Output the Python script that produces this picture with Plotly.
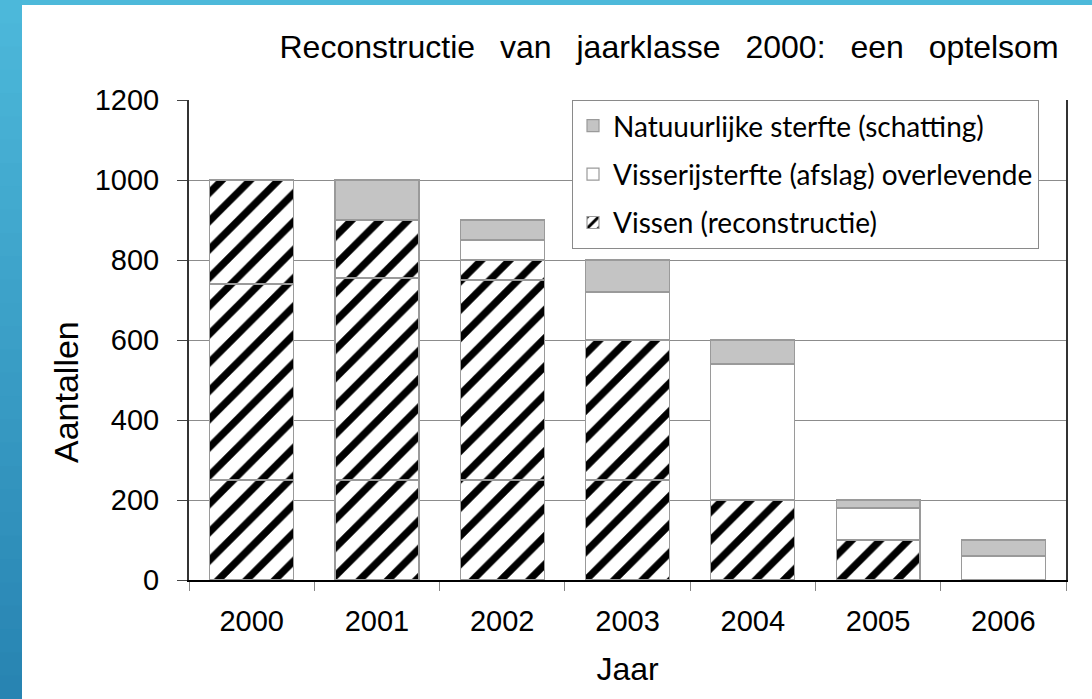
import plotly.graph_objects as go

jaren = ["2000", "2001", "2002", "2003", "2004", "2005", "2006"]
# Vissen (reconstructie), drawn as stacked segments (seams visible in the original)
vissen_laag = [250, 250, 250, 250, 200, 100, None]
vissen_mid = [490, 505, 500, 350, None, None, None]
vissen_hoog = [260, 145, 50, None, None, None, None]
visserij = [None, None, 50, 120, 340, 80, 60]
natuurlijk = [None, 100, 50, 80, 60, 20, 40]

W, H = 1092, 699
L, R, T, B = 189, 26, 100, 119
pw, ph = W - L - R, H - T - B

def px_x(p):
    return (p - L) / pw

def px_y(p):
    return (H - B - p) / ph

hatch = dict(shape="/", fgcolor="black", bgcolor="white", size=20,
             solidity=0.36, fgopacity=1)
edge = dict(color="#9a9a9a", width=1.2)

fig = go.Figure()
for i, seg in enumerate([vissen_laag, vissen_mid, vissen_hoog]):
    fig.add_trace(go.Bar(
        x=jaren, y=seg, name="Vissen (reconstructie)",
        legendgroup="vissen", showlegend=(i == 0), legendrank=3,
        marker=dict(color="white", pattern=hatch, line=edge),
    ))
fig.add_trace(go.Bar(
    x=jaren, y=visserij, name="Visserijsterfte (afslag) overlevende",
    legendgroup="visserij", legendrank=2,
    marker=dict(color="white", line=edge),
))
fig.add_trace(go.Bar(
    x=jaren, y=natuurlijk, name="Natuuurlijke sterfte (schatting)",
    legendgroup="natuurlijk", legendrank=1,
    marker=dict(color="#c4c4c4", line=edge),
))

shapes = []
# blue slide border (top band and left gradient band)
shapes.append(dict(type="rect", xref="paper", yref="paper", layer="above",
                   x0=px_x(0), x1=px_x(W), y0=px_y(5), y1=px_y(0),
                   fillcolor="#4db9da", line=dict(width=0)))
n = 30
c0 = (0x4c, 0xb8, 0xda)
c1 = (0x28, 0x84, 0xb2)
for k in range(n):
    t = k / (n - 1)
    col = "rgb(%d,%d,%d)" % tuple(int(round(a + (b - a) * t)) for a, b in zip(c0, c1))
    y0p = H * k / n
    y1p = H * (k + 1) / n + 2
    shapes.append(dict(type="rect", xref="paper", yref="paper", layer="above",
                       x0=px_x(0), x1=px_x(22), y0=px_y(y1p), y1=px_y(y0p),
                       fillcolor=col, line=dict(width=0)))

gap = " \u2002"
titel = gap.join(["Reconstructie", "van", "jaarklasse", "2000:", "een", "optelsom"])

fig.update_layout(
    width=W, height=H,
    margin=dict(l=L, r=R, t=T, b=B),
    barmode="stack", bargap=0.33,
    paper_bgcolor="white", plot_bgcolor="white",
    font=dict(family="Liberation Sans, Arial, sans-serif", color="black"),
    title=dict(text=titel,
               x=669 / W, xanchor="center", y=1 - 47 / H, yanchor="middle",
               font=dict(size=32, family="Liberation Sans, Arial, sans-serif")),
    legend=dict(
        x=px_x(572), y=1.0, xanchor="left", yanchor="top",
        bgcolor="white", bordercolor="#8a8a8a", borderwidth=1,
        traceorder="grouped", tracegroupgap=9,
        font=dict(family="Lato, Open Sans, sans-serif", size=28, color="black"),
    ),
    xaxis=dict(
        type="category", tickson="boundaries", ticks="outside", ticklen=9,
        tickcolor="#888", showline=True, linecolor="black", linewidth=2,
        tickfont=dict(size=29), ticklabelstandoff=14,
        title=dict(text="Jaar", font=dict(size=32), standoff=22),
        showgrid=False,
    ),
    yaxis=dict(
        range=[0, 1200], tickvals=[0, 200, 400, 600, 800, 1000, 1200],
        ticks="outside", ticklen=10, tickcolor="#444",
        showline=True, linecolor="#333", linewidth=2, mirror=True,
        showgrid=True, gridcolor="#8c8c8c", gridwidth=1,
        tickfont=dict(size=29), ticklabelstandoff=12,
        zeroline=False,
    ),
    annotations=[dict(
        text="Aantallen", textangle=-90, showarrow=False,
        xref="paper", yref="paper", x=px_x(66), y=px_y(392),
        xanchor="center", yanchor="middle",
        font=dict(size=34, family="Liberation Sans, Arial, sans-serif", color="black"),
    )],
    shapes=shapes,
)

fig.write_html("out.html", post_script="document.body.style.margin='0';",
               config={"displayModeBar": False})
